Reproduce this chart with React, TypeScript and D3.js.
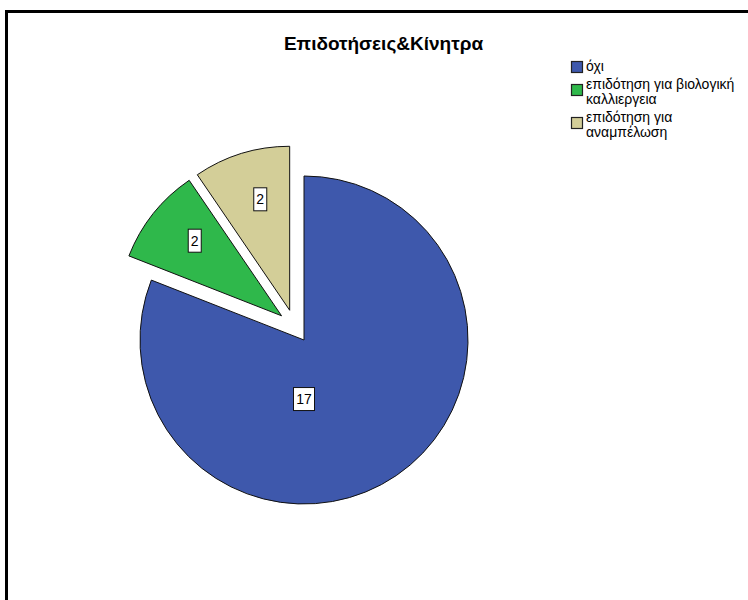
import React from 'react';
import { pie, arc, PieArcDatum } from 'd3';

const categories = ['όχι', 'επιδότηση για βιολογική καλλιέργεια', 'επιδότηση για αναμπέλωση'];
const legendLines = [['όχι'], ['επιδότηση για βιολογική', 'καλλιεργεια'], ['επιδότηση για', 'αναμπέλωση']];
const counts = [17, 2, 2];
const exploded = [false, true, true];
const colors = ['#3e58ac', '#2fb84b', '#d3ce98'];
const title = 'Επιδοτήσεις&Κίνητρα';

const W = 748;
const H = 600;
const font = '"Liberation Sans", Arial, sans-serif';

export default function App() {
  // pie geometry
  const cx = 304;
  const cy = 340;
  const r = 164;
  const explodeDist = 33;

  const arcs = pie<number>().sort(null).value(d => d)(counts);
  const slice = arc<PieArcDatum<number>>().innerRadius(0).outerRadius(r);

  const mid = (a: PieArcDatum<number>) => (a.startAngle + a.endAngle) / 2;
  const exp = arcs.filter((_, i) => exploded[i]);
  const groupMid = exp.reduce((s, a) => s + mid(a), 0) / (exp.length || 1);

  const offset = (a: PieArcDatum<number>, i: number) => {
    if (!exploded[i]) return [0, 0];
    const ang = (mid(a) + groupMid) / 2;
    return [Math.sin(ang) * explodeDist, -Math.cos(ang) * explodeDist];
  };

  const labelPos = (a: PieArcDatum<number>) => {
    const span = a.endAngle - a.startAngle;
    if (span > Math.PI) return [0, r * 0.36];
    const ang = mid(a) + 0.04;
    return [Math.sin(ang) * r * 0.7, -Math.cos(ang) * r * 0.7];
  };

  // legend
  const lx = 571;
  const ly = 61;
  const sw = 11;
  const lineH = 15;
  let yCursor = ly;
  const legendItems = legendLines.map((lines, i) => {
    const y0 = yCursor;
    yCursor += lines.length * lineH + 3;
    return { lines, y0, i };
  });

  return (
    <svg
      width={W}
      height={H}
      style={{ position: 'absolute', left: 0, top: 0, background: '#fff' }}
      fontFamily={font}
    >
      <rect width={W} height={H} fill="#fff" />
      {/* frame */}
      <line x1={6.5} y1={11.5} x2={W} y2={11.5} stroke="#000" strokeWidth={3} />
      <line x1={6.5} y1={10} x2={6.5} y2={H} stroke="#000" strokeWidth={3} />

      <text x={383.5} y={50} textAnchor="middle" fontSize={19} fontWeight="bold" fill="#000">
        {title}
      </text>

      <g transform={`translate(${cx},${cy})`}>
        {arcs.map((a, i) => {
          const [dx, dy] = offset(a, i);
          return (
            <path
              key={categories[i]}
              d={slice(a) || ''}
              transform={`translate(${dx},${dy})`}
              fill={colors[i]}
              stroke="#111"
              strokeWidth={1}
              strokeLinejoin="round"
            />
          );
        })}
        {arcs.map((a, i) => {
          const [dx, dy] = offset(a, i);
          const [tx, ty] = labelPos(a);
          const txt = String(counts[i]);
          const bw = txt.length * 8 + 5;
          const bh = 23;
          return (
            <g key={'l' + i} transform={`translate(${dx + tx},${dy + ty})`}>
              <rect x={-bw / 2} y={-bh / 2} width={bw} height={bh} fill="#fff" stroke="#111" strokeWidth={1} />
              <text y={5} textAnchor="middle" fontSize={14} fill="#000">
                {txt}
              </text>
            </g>
          );
        })}
      </g>

      <g>
        {legendItems.map(({ lines, y0, i }) => {
          const blockH = lines.length * lineH;
          return (
            <g key={'lg' + i}>
              <rect
                x={lx + 0.5}
                y={y0 + blockH / 2 - sw / 2 - 1.5 - (lines.length - 1) * 2.5}
                width={sw}
                height={sw}
                fill={colors[i]}
                stroke="#222"
                strokeWidth={1.2}
              />
              {lines.map((t, j) => (
                <text key={j} x={lx + 15} y={y0 + 10 + j * lineH} fontSize={14} fill="#000">
                  {t}
                </text>
              ))}
            </g>
          );
        })}
      </g>
    </svg>
  );
}
